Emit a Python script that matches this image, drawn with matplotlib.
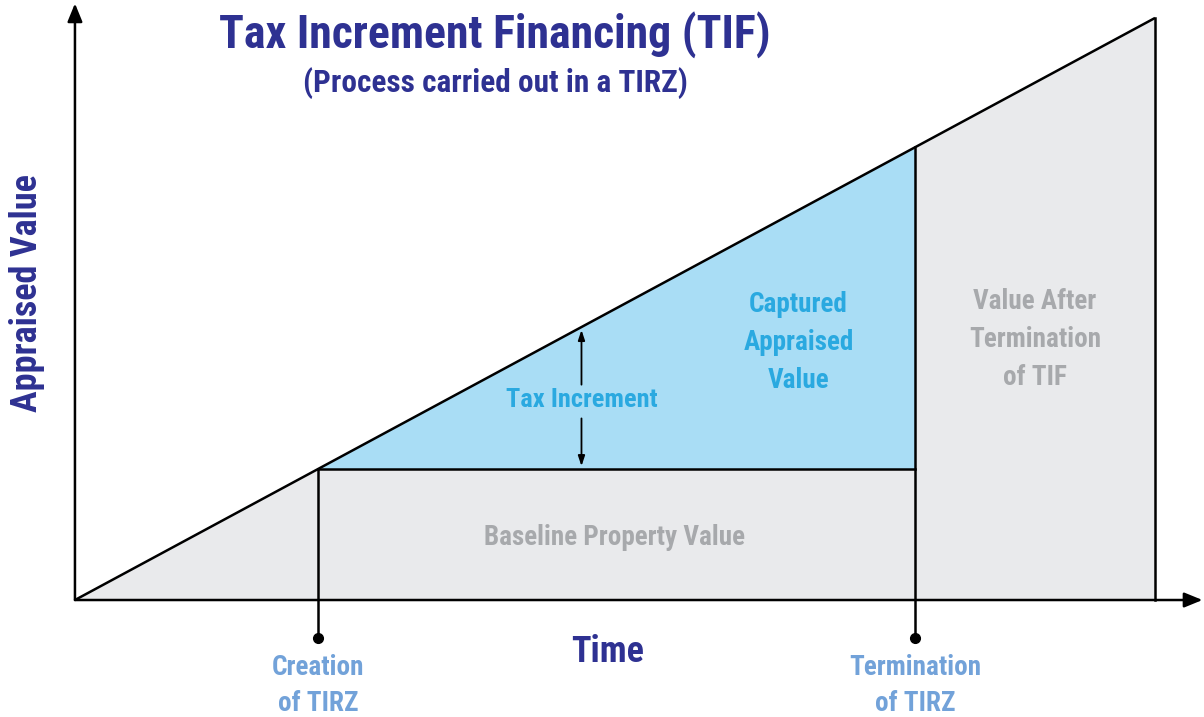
import matplotlib
matplotlib.use("Agg")
import matplotlib.pyplot as plt
from matplotlib import font_manager

# data: appraised value grows linearly with time
time = [0.0, 2.25, 7.78, 10.0]
value = [0.0, 2.25, 7.78, 10.0]
creation_time = 2.25
termination_time = 7.78
baseline_value = 2.25
termination_value = 7.78
end_time = 10.0
end_value = 10.0

navy = "#2E3192"
sky = "#A9DDF5"
sky_text = "#2AA9E0"
grey_fill = "#E9EAEC"
grey_text = "#A7A9AC"
label_blue = "#72A2D9"

names = {f.name for f in font_manager.fontManager.ttflist}
family = ["Roboto Condensed", "Roboto", "DejaVu Sans"]
family = [f for f in family if f in names] or ["DejaVu Sans"]
plt.rcParams["font.family"] = family

fig = plt.figure(figsize=(12.04, 7.17), dpi=100)
ax = fig.add_axes([0, 0, 1, 1])
ax.set_xlim(-0.694, 10.454)
ax.set_ylim(-2.010, 10.309)
ax.axis("off")

txt = dict(fontweight="bold", fontstretch="condensed", ha="center", va="center")

# fills
ax.fill_between(time, 0, value, color=grey_fill, lw=0, zorder=1)
ax.fill_between([creation_time, termination_time], baseline_value,
                [baseline_value, termination_value], color=sky, lw=0, zorder=2)

# outlines
ax.plot(time, value, color="black", lw=1.8, zorder=4, solid_capstyle="butt")
ax.plot([end_time, end_time], [0, end_value], color="black", lw=1.8, zorder=4)
ax.plot([creation_time, termination_time], [baseline_value, baseline_value],
        color="black", lw=1.8, zorder=4)
for t, v in [(creation_time, baseline_value), (termination_time, termination_value)]:
    ax.plot([t, t], [v, -0.655], color="black", lw=1.8, zorder=4)
    ax.plot(t, -0.655, "o", color="black", ms=7, zorder=5)

# axes arrows
ax.annotate("", xy=(10.44, 0), xytext=(0, 0),
            arrowprops=dict(arrowstyle="-|>,head_length=1.1,head_width=0.45",
                            color="black", lw=1.8, shrinkA=0, shrinkB=0), zorder=6)
ax.annotate("", xy=(0, 10.25), xytext=(0, 0),
            arrowprops=dict(arrowstyle="-|>,head_length=1.1,head_width=0.45",
                            color="black", lw=1.8, shrinkA=0, shrinkB=0), zorder=6)

# tax increment arrows
mid = 4.69
ax.annotate("", xy=(mid, 4.64), xytext=(mid, 3.70),
            arrowprops=dict(arrowstyle="-|>,head_length=0.6,head_width=0.2",
                            color="black", lw=1.3, shrinkA=0, shrinkB=0), zorder=6)
ax.annotate("", xy=(mid, 2.30), xytext=(mid, 3.12),
            arrowprops=dict(arrowstyle="-|>,head_length=0.6,head_width=0.2",
                            color="black", lw=1.3, shrinkA=0, shrinkB=0), zorder=6)

# texts
ax.text(3.89, 9.72, "Tax Increment Financing (TIF)", color=navy, fontsize=33, **txt)
ax.text(3.89, 8.88, "(Process carried out in a TIRZ)", color=navy, fontsize=22.5, **txt)
ax.text(-0.445, 5.28, "Appraised Value", color=navy, fontsize=26, rotation=90, **txt)
ax.text(4.93, -0.90, "Time", color=navy, fontsize=26, **txt)

ax.text(mid, 3.43, "Tax Increment", color=sky_text, fontsize=19, **txt)
ax.text(6.70, 4.42, "Captured\nAppraised\nValue", color=sky_text, fontsize=19.5,
        linespacing=1.53, **txt)
ax.text(8.89, 4.48, "Value After\nTermination\nof TIF", color=grey_text, fontsize=19.5,
        linespacing=1.53, **txt)
ax.text(5.00, 1.08, "Baseline Property Value", color=grey_text, fontsize=19.5, **txt)

ax.text(creation_time, -1.47, "Creation\nof TIRZ", color=label_blue, fontsize=19.5,
        linespacing=1.46, **txt)
ax.text(termination_time, -1.47, "Termination\nof TIRZ", color=label_blue, fontsize=19.5,
        linespacing=1.46, **txt)

fig.savefig("out.png", dpi=100)
